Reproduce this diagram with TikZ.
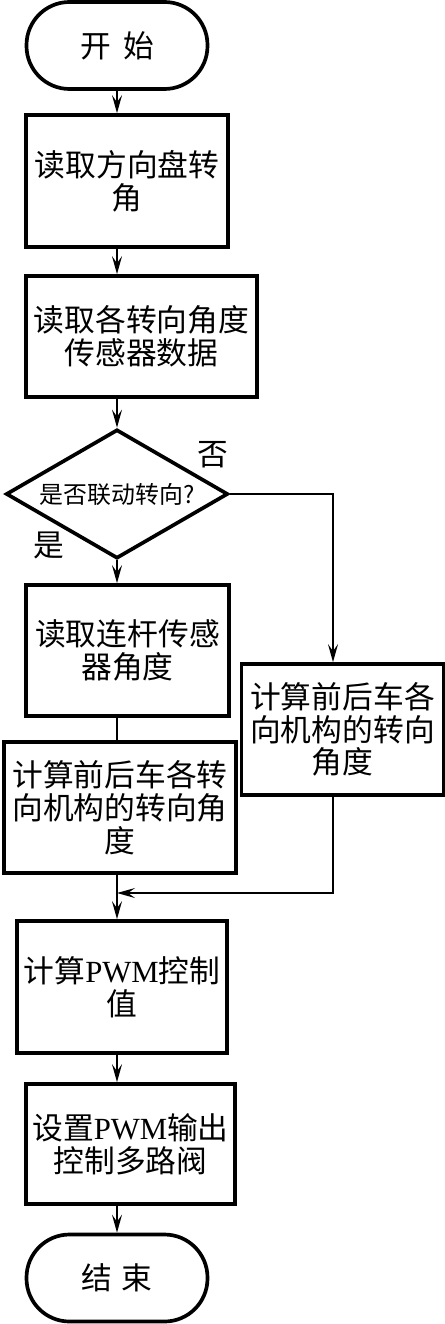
\documentclass[tikz,border=0pt]{standalone}
\usepackage{fontspec}
\setmainfont{Liberation Serif}
\newfontfamily\cjk{Noto Sans CJK SC}
\usetikzlibrary{arrows.meta,positioning,shapes.geometric}

\begin{document}
\begin{tikzpicture}[
  font=\cjk\fontsize{17.5}{18.6}\selectfont,
  term/.style={draw,line width=2.1pt,rounded corners=0.86cm,
               minimum width=3.62cm,minimum height=1.74cm,inner sep=0pt},
  proc/.style={draw,line width=2.1pt,align=center,inner sep=0pt},
  dec/.style={diamond,draw,line width=2.1pt,inner sep=0pt,aspect=1.72,
              minimum width=4.44cm,minimum height=2.58cm,
              font=\cjk\fontsize{13.6}{14}\selectfont},
  arr/.style={-{Stealth[length=3.6mm,width=2mm,inset=1.4mm]},line width=0.9pt},
  ln/.style={line width=0.9pt},
  yn/.style={font=\cjk\fontsize{17.5}{18}\selectfont}]
\useasboundingbox (0,0) rectangle (8.9,-26.48);

% ---------------- main column ----------------
\node[term] (start) at (2.34,-0.91) {开\hspace{0.4em}始};
\node[proc,minimum width=4.04cm,minimum height=2.64cm] (rd) at (2.54,-3.62)
  {读取方向盘转\\角};
\node[proc,minimum width=4.62cm,minimum height=2.42cm] (sens) at (2.83,-6.73)
  {读取各转向角度\\传感器数据};
\node[dec] (dia) at (2.34,-9.88) {是否联动转向?};
\node[yn] (no)  at (4.26,-9.10) {否};
\node[yn] (yes) at (0.98,-10.90) {是};

% ---------------- yes branch ----------------
\node[proc,minimum width=4.06cm,minimum height=2.62cm] (link) at (2.55,-13.01)
  {读取连杆传感\\器角度};
\node[proc,minimum width=4.64cm,minimum height=2.62cm] (calcA) at (2.40,-16.15)
  {计算前后车各转\\向机构的转向角\\度};

% ---------------- no branch ----------------
\coordinate (rc) at (6.66,-9.88);
\node[proc,minimum width=4.04cm,minimum height=2.62cm] (calcB) at (6.85,-14.59)
  {计算前后车各\\向机构的转向\\角度};
\coordinate (jn) at (2.34,-17.86);

% ---------------- output ----------------
\node[proc,minimum width=4.20cm,minimum height=2.64cm] (pwm) at (2.44,-19.74)
  {计算{\rmfamily PWM}控制\\值};
\node[proc,minimum width=4.18cm,minimum height=2.40cm] (out) at (2.61,-22.88)
  {设置{\rmfamily PWM}输出\\控制多路阀};
\node[term] (stop) at (2.34,-25.56) {结\hspace{0.3em}束};

% ---------------- connectors ----------------
\draw[arr] (start) -- (start |- rd.north);
\draw[arr] (rd.south -| dia) -- (sens.north -| dia);
\draw[arr] (sens.south -| dia) -- (dia.north);
\draw[arr] (dia.south) -- (link.north -| dia);
\draw[ln]  (link.south -| dia) -- (calcA.north -| dia);
\draw[arr] (calcA.south -| dia) -- (pwm.north -| dia);
\draw[arr] (dia.east) -- (rc) -- (rc |- calcB.north);
\draw[arr] (rc |- calcB.south) -- (rc |- jn) -- (jn);
\draw[arr] (pwm.south -| dia) -- (out.north -| dia);
\draw[arr] (out.south -| dia) -- (stop);
\end{tikzpicture}
\end{document}
